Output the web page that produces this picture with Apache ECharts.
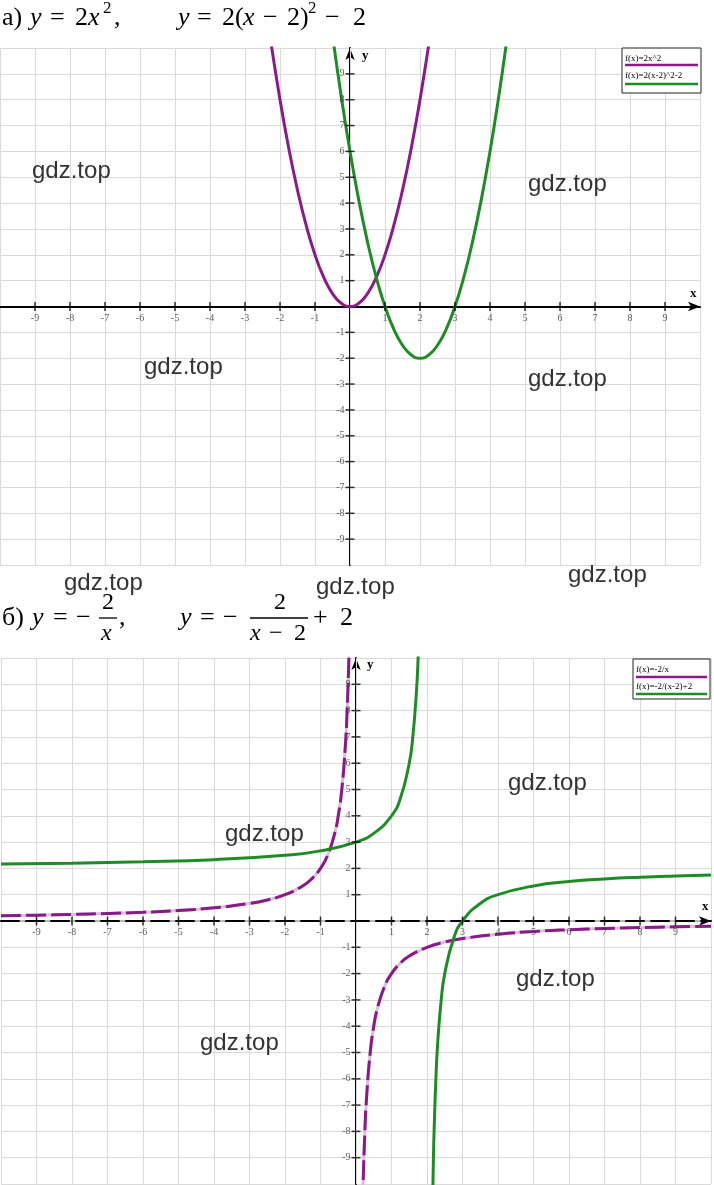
<!DOCTYPE html>
<html><head><meta charset="utf-8">
<script src="https://cdn.jsdelivr.net/npm/echarts@6/dist/echarts.min.js"></script>
<style>html,body{margin:0;padding:0;background:#fff}#c{width:714px;height:1185px}</style>
</head><body><div id="c"></div>
<script>
// ---- data ----
const tickValues = [-9,-8,-7,-6,-5,-4,-3,-2,-1,1,2,3,4,5,6,7,8,9];
const axisMin = -10, axisMax = 10;

// chart а): y = 2x^2 and y = 2(x-2)^2 - 2
const parA_x = [-2.3,-2,-1.75,-1.5,-1.25,-1,-0.75,-0.5,-0.25,0,0.25,0.5,0.75,1,1.25,1.5,1.75,2,2.3];
const parA_y = [10.58,8,6.125,4.5,3.125,2,1.125,0.5,0.125,0,0.125,0.5,1.125,2,3.125,4.5,6.125,8,10.58];
const parB_x = [-0.5,-0.25,0,0.25,0.5,0.75,1,1.25,1.5,1.75,2,2.25,2.5,2.75,3,3.25,3.5,3.75,4,4.25,4.5];
const parB_y = [10.5,8.125,6,4.125,2.5,1.125,0,-0.875,-1.5,-1.875,-2,-1.875,-1.5,-0.875,0,1.125,2.5,4.125,6,8.125,10.5];

// chart б): y = -2/x and y = -2/(x-2) + 2
const hypA_left_x = [-10,-9,-8,-7,-6,-5,-4,-3,-2.5,-2,-1.5,-1.25,-1,-0.8,-0.6,-0.5,-0.4,-0.3,-0.25,-0.2,-0.17];
const hypA_left_y = [0.2,0.222,0.25,0.286,0.333,0.4,0.5,0.667,0.8,1,1.333,1.6,2,2.5,3.333,4,5,6.667,8,10,11.76];
const hypA_right_x = [0.17,0.2,0.25,0.3,0.4,0.5,0.6,0.8,1,1.25,1.5,2,2.5,3,4,5,6,7,8,9,10];
const hypA_right_y = [-11.76,-10,-8,-6.667,-5,-4,-3.333,-2.5,-2,-1.6,-1.333,-1,-0.8,-0.667,-0.5,-0.4,-0.333,-0.286,-0.25,-0.222,-0.2];
const hypB_left_x = [-10,-8,-6,-4,-2,-1,0,0.5,1,1.25,1.5,1.6,1.7,1.75,1.8,1.83];
const hypB_left_y = [2.167,2.2,2.25,2.333,2.5,2.667,3,3.333,4,4.667,6,7,8.667,10,12,13.76];
const hypB_right_x = [2.15,2.18,2.2,2.25,2.3,2.4,2.5,2.75,3,3.5,4,5,6,7,8,9,10];
const hypB_right_y = [-11.33,-9.11,-8,-6,-4.667,-3,-2,-0.667,0,0.667,1,1.333,1.5,1.6,1.667,1.714,1.75];

const legendA = ['f(x)=2x^2', 'f(x)=2(x-2)^2-2'];
const legendB = ['f(x)=-2/x', 'f(x)=-2/(x-2)+2'];
const watermark = 'gdz.top';

// ---- styles ----
const PURPLE = '#8B1A89', GREEN = '#1E8C24', LILAC = '#d9bfd8';
const SERIF = '"Liberation Serif","DejaVu Serif",serif';
const zip = (a, b) => a.map((v, i) => [v, b[i]]);

function xAxisCfg(grid, yIdx, dashed) {
  return {
    gridIndex: grid, type: 'value', min: axisMin, max: axisMax, interval: 1, z: 1,
    axisLine: { onZero: true, onZeroAxisIndex: yIdx, symbol: ['none', 'arrow'], symbolSize: [7, 12],
      lineStyle: { color: '#000', width: 2, type: dashed ? [18, 7] : 'solid' } },
    axisTick: { show: false },
    axisLabel: { show: false },
    splitLine: { show: true, lineStyle: { color: '#dadada', width: 1 } }
  };
}
function yAxisCfg(grid, xIdx) {
  return {
    gridIndex: grid, type: 'value', min: axisMin, max: axisMax, interval: 1,
    axisLine: { onZero: true, onZeroAxisIndex: xIdx, symbol: ['none', 'arrow'], symbolSize: [7, 12],
      lineStyle: { color: '#000', width: 2 } },
    axisTick: { show: false },
    axisLabel: { show: false },
    splitLine: { show: true, lineStyle: { color: '#dadada', width: 1 } }
  };
}
function lineSeries(xi, yi, data, color, extra) {
  return Object.assign({
    type: 'line', xAxisIndex: xi, yAxisIndex: yi, data: data, showSymbol: false, symbol: 'none',
    smooth: 0.5, clip: true, silent: true,
    lineStyle: { color: color, width: 3 }
  }, extra || {});
}
const tickLabel = { show: true, fontFamily: SERIF, fontSize: 10, color: '#333' };
function tickSeries(xi, yi) {
  return [
    { type: 'scatter', xAxisIndex: xi, yAxisIndex: yi, silent: true, symbol: 'rect', symbolSize: [1.5, 9],
      itemStyle: { color: '#000' }, data: tickValues.map(v => [v, 0]), z: 3,
      label: Object.assign({ position: 'bottom', distance: 2, formatter: p => String(p.value[0]) }, tickLabel) },
    { type: 'scatter', xAxisIndex: xi, yAxisIndex: yi, silent: true, symbol: 'rect', symbolSize: [9, 1.5],
      itemStyle: { color: '#000' }, data: tickValues.map(v => [0, v]), z: 3,
      label: Object.assign({ position: 'left', distance: 1, formatter: p => String(p.value[1]) }, tickLabel) }
  ];
}

// ---- text graphics ----
const g = [];
function t(text, x, y, size, opts) {
  opts = opts || {};
  g.push({ type: 'text', x: x, y: y, z: 100, silent: true,
    style: { text: text, fill: opts.fill || '#000',
      font: (opts.italic ? 'italic ' : '') + (opts.bold ? 'bold ' : '') + size + 'px ' + (opts.family || SERIF),
      textAlign: opts.align || 'left', textVerticalAlign: 'middle' } });
}
function bar(x1, x2, y) {
  g.push({ type: 'line', z: 100, silent: true, shape: { x1: x1, y1: y, x2: x2, y2: y }, style: { stroke: '#000', lineWidth: 1.3 } });
}
// title а)  (y = vertical centre of the glyph row)
const TA = 18;
t('а)', 2, TA, 26);
t('y', 30, TA, 26, { italic: true });
t('=', 50, TA, 26);
t('2', 75, TA, 26);
t('x', 88, TA, 26, { italic: true });
t('2', 103, 9, 17);
t(',', 114, TA, 26);
t('y', 178, TA, 26, { italic: true });
t('=', 197, TA, 26);
t('2(', 222, TA, 26);
t('x', 243, TA, 26, { italic: true });
t('−', 263, TA, 26);
t('2)', 287, TA, 26);
t('2', 308, 9, 17);
t('−', 325, TA, 26);
t('2', 353, TA, 26);
// title б)
const TB = 618;
t('б)', 2, TB, 26);
t('y', 32, TB, 26, { italic: true });
t('=', 53, TB, 26);
t('−', 76, TB, 26);
t('2', 102, 603, 24);
bar(99, 117, 618);
t('x', 101, 634, 24, { italic: true });
t(',', 119, TB, 26);
t('y', 180, TB, 26, { italic: true });
t('=', 200, TB, 26);
t('−', 223, TB, 26);
t('2', 274, 603, 24);
bar(250, 308, 618);
t('x', 250, 634, 24, { italic: true });
t('−', 269, 634, 24);
t('2', 294, 634, 24);
t('+', 313, TB, 26);
t('2', 340, TB, 26);

// axis names
t('y', 362, 56, 13, { bold: true });
t('x', 690, 294, 13, { bold: true });
t('y', 367, 665, 13, { bold: true });
t('x', 702, 907, 13, { bold: true });

// legends
function legendBox(x, y, w, h, labels, yText1, yLine1, yText2, yLine2) {
  g.push({ type: 'rect', z: 99, silent: true, shape: { x: x, y: y, width: w, height: h },
    style: { fill: '#fff', stroke: '#222', lineWidth: 1 } });
  t(labels[0], x + 3, yText1, 9);
  g.push({ type: 'line', z: 100, silent: true, shape: { x1: x + 3, y1: yLine1, x2: x + w - 3, y2: yLine1 }, style: { stroke: PURPLE, lineWidth: 2.5 } });
  t(labels[1], x + 3, yText2, 9);
  g.push({ type: 'line', z: 100, silent: true, shape: { x1: x + 3, y1: yLine2, x2: x + w - 3, y2: yLine2 }, style: { stroke: GREEN, lineWidth: 2.5 } });
}
legendBox(622, 48, 79, 45, legendA, 59, 65, 76, 84);
legendBox(633, 659, 77, 40, legendB, 670, 677, 687, 694);

// watermarks
[[32,171],[528,184],[144,367],[528,379],[64,583],[316,587],[568,575],[508,783],[225,834],[516,979],[200,1043]]
  .forEach(p => t(watermark, p[0], p[1], 24, { family: '"Liberation Sans",Arial,sans-serif', fill: '#333' }));

const option = {
  animation: false,
  backgroundColor: '#fff',
  grid: [
    { left: 0, top: 48, width: 700, height: 517, containLabel: false, outerBoundsMode: 'none' },
    { left: 1, top: 658, width: 710, height: 526, containLabel: false, outerBoundsMode: 'none' }
  ],
  xAxis: [
    xAxisCfg(0, 0, false),
    xAxisCfg(1, 1, true),
    { gridIndex: 1, type: 'value', min: axisMin, max: axisMax, z: 0,
      axisLine: { onZero: true, onZeroAxisIndex: 1, lineStyle: { color: '#b8b8b8', width: 2 } },
      axisTick: { show: false }, axisLabel: { show: false }, splitLine: { show: false } }
  ],
  yAxis: [ yAxisCfg(0, 0), yAxisCfg(1, 1) ],
  series: [
    lineSeries(0, 0, zip(parA_x, parA_y), PURPLE),
    lineSeries(0, 0, zip(parB_x, parB_y), GREEN),
    ...tickSeries(0, 0),
    lineSeries(1, 1, zip(hypA_left_x, hypA_left_y), LILAC),
    lineSeries(1, 1, zip(hypA_right_x, hypA_right_y), LILAC),
    lineSeries(1, 1, zip(hypA_left_x, hypA_left_y), PURPLE, { lineStyle: { color: PURPLE, width: 3, type: [20, 5] } }),
    lineSeries(1, 1, zip(hypA_right_x, hypA_right_y), PURPLE, { lineStyle: { color: PURPLE, width: 3, type: [20, 5] } }),
    lineSeries(1, 1, zip(hypB_left_x, hypB_left_y), GREEN),
    lineSeries(1, 1, zip(hypB_right_x, hypB_right_y), GREEN),
    ...tickSeries(1, 1)
  ],
  graphic: { elements: g }
};
const chart = echarts.init(document.getElementById('c'));
chart.setOption(option);
</script>
</body></html>
